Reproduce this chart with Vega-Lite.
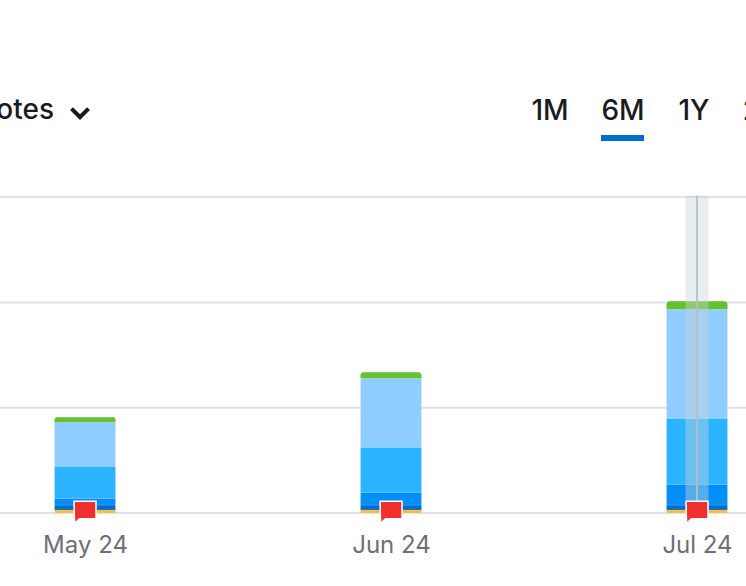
{"$schema":"https://vega.github.io/schema/vega-lite/v6.json","width":746,"height":513,"autosize":"none","padding":{"left":0,"top":0,"right":0,"bottom":73},"background":"#ffffff","config":{"view":{"stroke":null},"font":"Inter"},
"datasets":{"grid":[{"v":0},{"v":100},{"v":200},{"v":300}],"bars":[
{"month":"May 24","series":"a","order":1,"value":2.8},{"month":"May 24","series":"b","order":2,"value":4.7},{"month":"May 24","series":"c","order":3,"value":6.6},{"month":"May 24","series":"d","order":4,"value":30.4},{"month":"May 24","series":"e","order":5,"value":41.8},{"month":"May 24","series":"f","order":6,"value":4.7},
{"month":"Jun 24","series":"a","order":1,"value":2.8},{"month":"Jun 24","series":"b","order":2,"value":4.7},{"month":"Jun 24","series":"c","order":3,"value":12.3},{"month":"Jun 24","series":"d","order":4,"value":42.7},{"month":"Jun 24","series":"e","order":5,"value":65.5},{"month":"Jun 24","series":"f","order":6,"value":5.7},
{"month":"Jul 24","series":"a","order":1,"value":2.8},{"month":"Jul 24","series":"b","order":2,"value":4.7},{"month":"Jul 24","series":"c","order":3,"value":19.9},{"month":"Jul 24","series":"d","order":4,"value":62.7},{"month":"Jul 24","series":"e","order":5,"value":103.5},{"month":"Jul 24","series":"f","order":6,"value":7.6}],
"flags":[{"month":"May 24","v":0.6},{"month":"Jun 24","v":0.6},{"month":"Jul 24","v":0.6}],
"hover":[{"month":"Jul 24","top":301.5,"bottom":0}],
"tabs":[{"label":"1M","pos":550,"v":373},{"label":"6M","pos":623,"v":373},{"label":"1Y","pos":694,"v":373},{"label":"2Y","pos":761,"v":373}],
"menu":[{"label":"Notes","pos":54,"v":374}],
"chev":[{"pos":80,"v":380}],
"under":[{"a":601,"b":644,"v0":353.4,"v1":359}]},
"resolve":{"scale":{"x":"independent"}},
"layer":[
{"data":{"name":"grid"},"mark":{"type":"rule","stroke":"#e0e1e9","strokeWidth":2},
"encoding":{"y":{"field":"v","type":"quantitative","scale":{"domain":[0,487.2],"nice":false,"zero":false},"axis":null}}},
{"data":{"name":"bars"},"transform":[{"stack":"value","groupby":["month"],"sort":[{"field":"order","order":"ascending"}],"as":["y0","y1"]},{"filter":"datum.series !== 'f'"}],
"mark":{"type":"bar","size":61,"stroke":"#ffffff","strokeOpacity":0.15,"strokeWidth":1},
"encoding":{"x":{"field":"month","type":"nominal","sort":null,"scale":{"type":"point","padding":0,"domain":["May 24","Jun 24","Jul 24"],"range":[85,697]},"axis":{"title":null,"domain":false,"ticks":false,"grid":false,"labelAngle":0,"labelFont":"Inter","labelFontSize":24,"labelColor":"#6c6e79","labelPadding":20,"labelOverlap":false}},
"y":{"field":"y0","type":"quantitative","axis":null},
"y2":{"field":"y1"},
"fill":{"field":"series","type":"nominal","legend":null,"scale":{"domain":["a","b","c","d","e","f"],"range":["#ffb92e","#006dca","#008ff8","#2bb3ff","#8fcdff","#66c030"]}}}},
{"data":{"name":"bars"},"transform":[{"stack":"value","groupby":["month"],"sort":[{"field":"order","order":"ascending"}],"as":["y0","y1"]},{"filter":"datum.series === 'f'"}],
"mark":{"type":"bar","size":61,"fill":"#66c030","cornerRadiusTopLeft":3,"cornerRadiusTopRight":3},
"encoding":{"x":{"field":"month","type":"nominal","sort":null,"scale":{"type":"point","padding":0,"domain":["May 24","Jun 24","Jul 24"],"range":[85,697]},"axis":null},"y":{"field":"y0","type":"quantitative"},"y2":{"field":"y1"}}},
{"data":{"name":"hover"},"mark":{"type":"bar","size":23,"fill":"#c7d3d6","opacity":0.42},
"encoding":{"x":{"field":"month","type":"nominal","scale":{"type":"point","padding":0,"domain":["May 24","Jun 24","Jul 24"],"range":[85,697]},"axis":null},"y":{"field":"top","type":"quantitative"},"y2":{"field":"bottom"}}},
{"data":{"name":"hover"},"mark":{"type":"rule","stroke":"#b4c0c2","strokeWidth":2,"opacity":0.9},
"encoding":{"x":{"field":"month","type":"nominal","scale":{"type":"point","padding":0,"domain":["May 24","Jun 24","Jul 24"],"range":[85,697]},"axis":null},"y":{"field":"top","type":"quantitative"},"y2":{"field":"bottom"}}},
{"data":{"name":"flags"},"mark":{"type":"point","filled":true,"opacity":1,"fill":"#f22f2f","stroke":"#ffffff","strokeWidth":1.5,"size":484,"shape":"M-1,-1 H1 V0.57 H-0.5 L-0.95,1 Z"},
"encoding":{"x":{"field":"month","type":"nominal","scale":{"type":"point","padding":0,"domain":["May 24","Jun 24","Jul 24"],"range":[85,697]},"axis":null},"y":{"field":"v","type":"quantitative"}}},
{"data":{"name":"tabs"},"mark":{"type":"text","font":"Inter","fontSize":28,"fontWeight":500,"fill":"#191b23","align":"center","baseline":"alphabetic"},
"encoding":{"x":{"field":"pos","type":"quantitative","scale":{"domain":[0,746],"nice":false,"zero":false},"axis":null},"y":{"field":"v","type":"quantitative"},"text":{"field":"label"}}},
{"data":{"name":"menu"},"mark":{"type":"text","font":"Inter","fontSize":28,"fontWeight":500,"fill":"#191b23","align":"right","baseline":"alphabetic"},
"encoding":{"x":{"field":"pos","type":"quantitative","scale":{"domain":[0,746],"nice":false,"zero":false},"axis":null},"y":{"field":"v","type":"quantitative"},"text":{"field":"label"}}},
{"data":{"name":"chev"},"mark":{"type":"point","filled":false,"stroke":"#191b23","strokeWidth":4.2,"opacity":1,"size":289,"shape":"M-1,-0.5 L0,0.5 L1,-0.5"},
"encoding":{"x":{"field":"pos","type":"quantitative","scale":{"domain":[0,746],"nice":false,"zero":false},"axis":null},"y":{"field":"v","type":"quantitative"}}},
{"data":{"name":"under"},"mark":{"type":"rect","fill":"#006dca"},
"encoding":{"x":{"field":"a","type":"quantitative","scale":{"domain":[0,746],"nice":false,"zero":false},"axis":null},"x2":{"field":"b"},"y":{"field":"v0","type":"quantitative"},"y2":{"field":"v1"}}}
]}
